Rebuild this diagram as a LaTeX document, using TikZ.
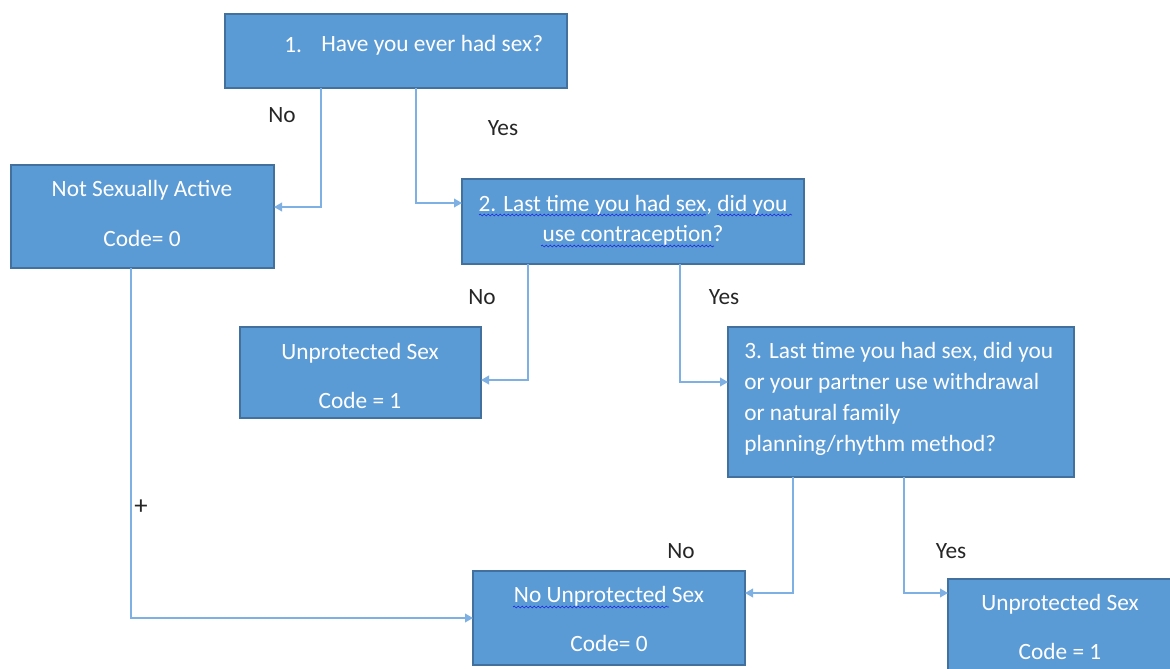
\documentclass[tikz,border=0pt]{standalone}
\usepackage{fontspec}
\setmainfont{Carlito}
\usetikzlibrary{arrows.meta,decorations.pathmorphing}
\definecolor{boxfill}{HTML}{5B9BD5}
\definecolor{boxedge}{HTML}{41719C}
\definecolor{linkc}{HTML}{7EB0E4}
\definecolor{spell}{HTML}{2030E0}
\tikzset{
  box/.style={draw=boxedge, fill=boxfill, line width=0.9pt},
  txt/.style={text=white, font=\fontsize{17.5}{20}\selectfont, inner sep=0pt},
  lbl/.style={text=black!85, font=\fontsize{17.5}{20}\selectfont, inner sep=0pt},
  link/.style={draw=linkc, line width=1.2pt, -{Triangle[length=6pt,width=6.5pt]}},
  squig/.style={draw=spell, line width=0.5pt, decorate, decoration={snake, segment length=3pt, amplitude=0.7pt}}
}
\begin{document}
\begin{tikzpicture}[x=0.75pt,y=-0.75pt]
\useasboundingbox (0,0) rectangle (1170,668);
% boxes
\draw[box] (225,14) rectangle (567,88);
\draw[box] (11,165) rectangle (274,268);
\draw[box] (462,179) rectangle (804,264);
\draw[box] (240,327) rectangle (481,418);
\draw[box] (728,327) rectangle (1074,477);
\draw[box] (473,571) rectangle (745,665);
\draw[box] (948,579) rectangle (1175,672);
% named anchor coordinates
\coordinate (q1no) at (321,88);
\coordinate (q1yes) at (416,88);
\coordinate (nsaR) at (274,207);
\coordinate (q2L) at (462,203);
\coordinate (q2no) at (528,264);
\coordinate (q2yes) at (680,264);
\coordinate (up1R) at (481,380);
\coordinate (q3L) at (728,382);
\coordinate (q3no) at (793,477);
\coordinate (q3yes) at (904,477);
\coordinate (nupR) at (745,593);
\coordinate (up2L) at (948,593);
\coordinate (nsaB) at (131,268);
\coordinate (nupL) at (473,618);
% texts
\node[txt, anchor=west] (t1a) at (284,45) {1.};
\node[txt, anchor=west] (t1b) at (321,45) {Have you ever had sex?};
\node[txt] (tnsa1) at (142,190) {Not Sexually Active};
\node[txt] (tnsa2) at (142,238) {Code= 0};
\node[txt] (tq2a) at (633,205) {2. Last time you had sex, did you};
\node[txt] (tq2b) at (633,235) {use contraception?};
\node[txt] (tup1a) at (360,353) {Unprotected Sex};
\node[txt] (tup1b) at (360,400) {Code = 1};
\node[txt, anchor=west] (tq3a) at (744,352) {3. Last time you had sex, did you};
\node[txt, anchor=west] (tq3b) at (744,383) {or your partner use withdrawal};
\node[txt, anchor=west] (tq3c) at (744,414) {or natural family};
\node[txt, anchor=west] (tq3d) at (744,445) {planning/rhythm method?};
\node[txt] (tnup1) at (609,596) {No Unprotected Sex};
\node[txt] (tnup2) at (609,643) {Code= 0};
\node[txt] (tup2a) at (1060,604) {Unprotected Sex};
\node[txt] (tup2b) at (1060,651) {Code = 1};
% spell-check squiggles
\draw[squig] (479,215) -- (706,215);
\draw[squig] (717,215) -- (792,215);
\draw[squig] (541,246) -- (714,246);
\draw[squig] (513,607) -- (669,607);
% connectors
\draw[link] (q1no) |- (nsaR);
\draw[link] (q1yes) |- (q2L);
\draw[link] (q2no) |- (up1R);
\draw[link] (q2yes) |- (q3L);
\draw[link] (q3no) |- (nupR);
\draw[link] (q3yes) |- (up2L);
\draw[link] (nsaB) |- (nupL);
% labels
\node[lbl] (l1) at (282,115) {No};
\node[lbl] (l2) at (503,128) {Yes};
\node[lbl] (l3) at (482,297) {No};
\node[lbl] (l4) at (724,297) {Yes};
\node[lbl] (l5) at (681,551) {No};
\node[lbl] (l6) at (951,551) {Yes};
\node[lbl, font=\fontsize{20}{22}\selectfont] (l7) at (141,507) {+};
\end{tikzpicture}
\end{document}
